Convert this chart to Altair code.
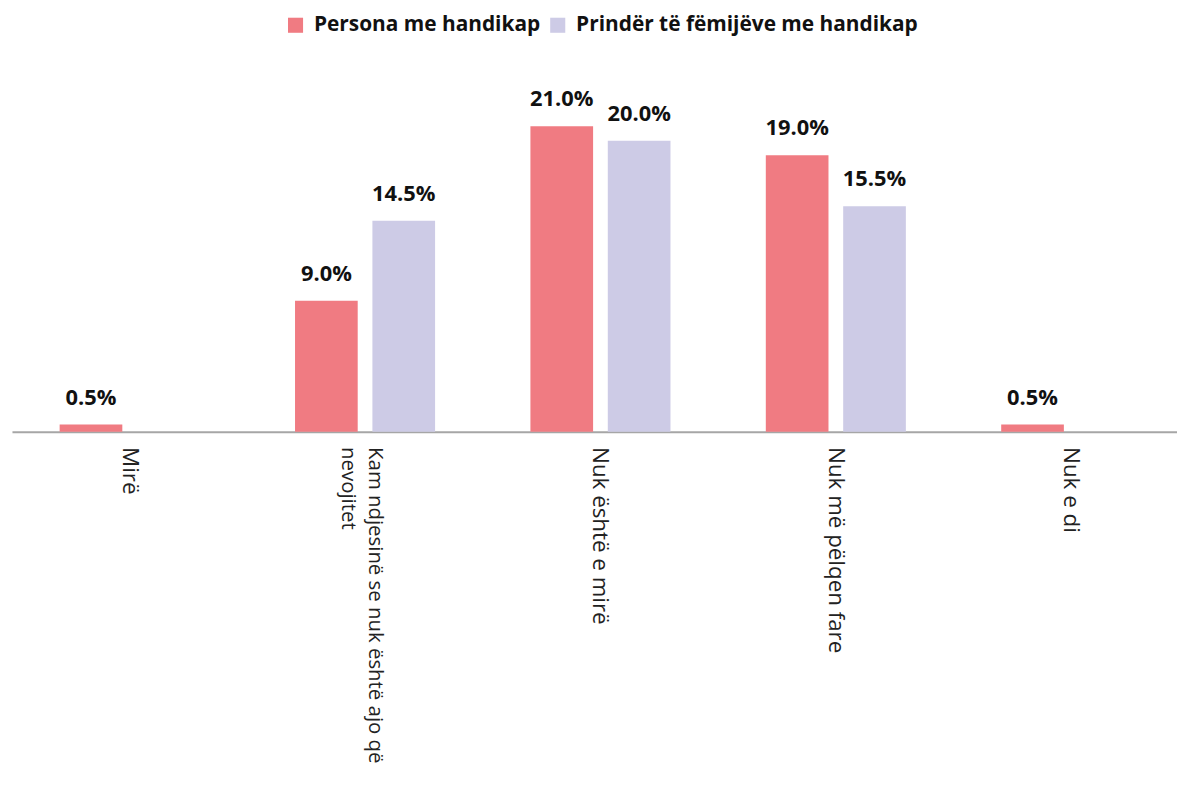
import altair as alt
import pandas as pd

categories = ["Mirë", "Kam ndjesinë se nuk është ajo që nevojitet", "Nuk është e mirë", "Nuk më pëlqen fare", "Nuk e di"]
series_names = ["Persona me handikap", "Prindër të fëmijëve me handikap"]
persona = [0.5, 9.0, 21.0, 19.0, 0.5]
prinder = [None, 14.5, 20.0, 15.5, None]
colors = ["#F07B82", "#CDCBE6"]

rows = []
for i, c in enumerate(categories):
    for s, vals in zip(series_names, [persona, prinder]):
        if vals[i] is not None:
            rows.append({"cat": c, "series": s, "value": vals[i], "label": f"{vals[i]:.1f}%"})
df = pd.DataFrame(rows)

kam_test = "datum.value == 'Kam ndjesinë se nuk është ajo që nevojitet'"

x = alt.X("cat:N", sort=categories, title=None,
          scale=alt.Scale(paddingInner=0.405, paddingOuter=0.2025, range=[0, 1185]),
          axis=alt.Axis(labelAngle=90, labelFont="Open Sans", labelColor="#222222",
                        labelFontSize={"condition": {"test": kam_test, "value": 20.5}, "value": 22.5},
                        ticks=False, domainColor="#A6A6A6", domainWidth=2, labelPadding=15,
                        labelLimit=0, labelLineHeight=27,
                        labelOffset={"condition": {"test": kam_test, "value": 10}, "value": 0},
                        labelExpr=kam_test + " ? ['Kam ndjesinë se nuk është ajo që', 'nevojitet'] : datum.value"))
xo = alt.XOffset("series:N", sort=series_names, scale=alt.Scale(domain=series_names, paddingInner=0.19, paddingOuter=0))
y = alt.Y("value:Q", scale=alt.Scale(domain=[0, 25.4]), axis=None)

bars = alt.Chart(df).mark_bar().encode(
    x=x, xOffset=xo, y=y,
    color=alt.Color("series:N", sort=series_names,
                    scale=alt.Scale(domain=series_names, range=colors),
                    legend=alt.Legend(title=None, orient="none", direction="horizontal",
                                      legendX=275, legendY=-48, symbolType="square", symbolSize=230,
                                      symbolStrokeWidth=0, labelFontSize=21, labelFont="Open Sans",
                                      labelFontWeight="bold", labelColor="#111111", columnPadding=7,
                                      labelOffset=8, labelLimit=0)),
)

texts = alt.Chart(df).mark_text(baseline="bottom", dy=-15, fontSize=22, font="Open Sans",
                                fontWeight="bold", color="#111111").encode(
    x=x, xOffset=xo, y=y, text="label:N")

chart = alt.layer(bars, texts).properties(
    width=1173, height=372,
    autosize=alt.AutoSizeParams(type="none"),
    padding={"left": 4, "top": 52, "right": 0, "bottom": 341},
).configure_view(stroke=None)

chart.save("out.html", embed_options={"renderer": "svg", "actions": False})
